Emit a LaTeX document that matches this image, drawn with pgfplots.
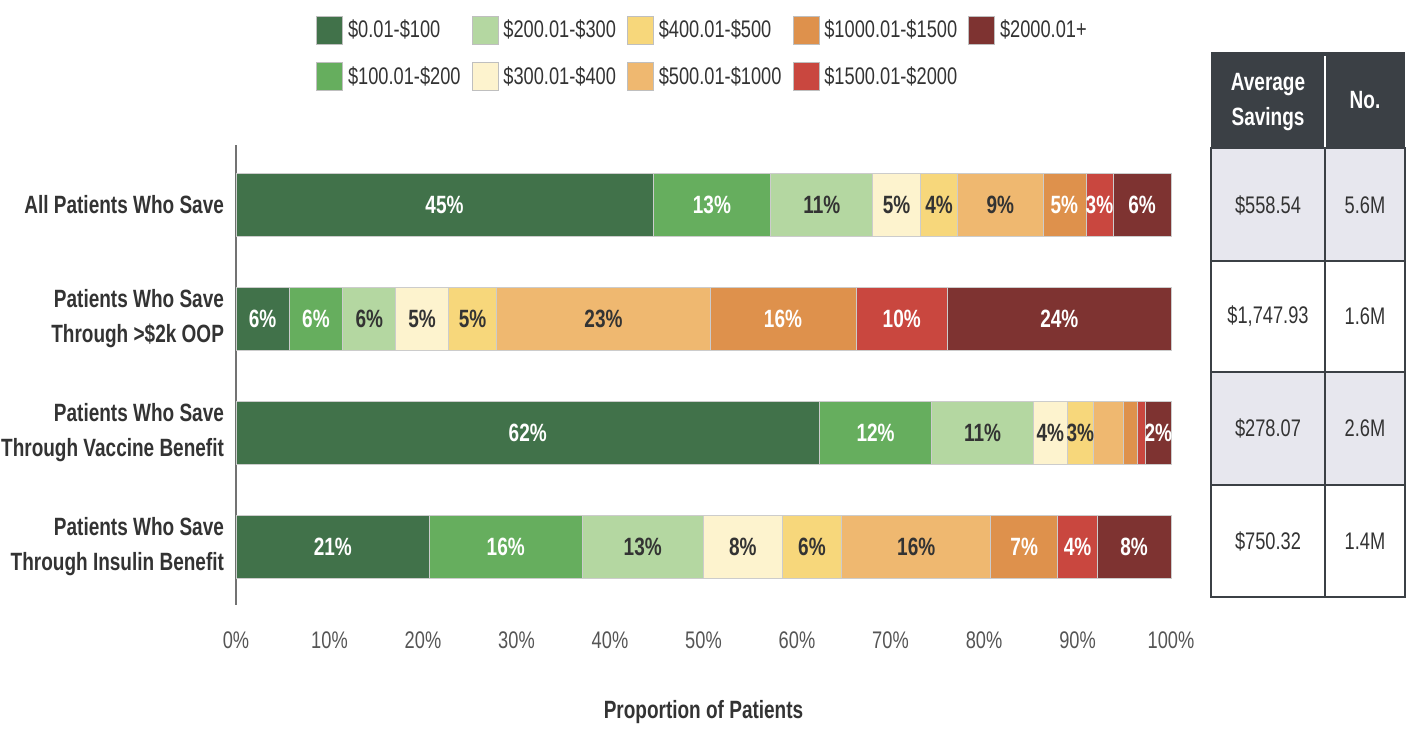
\documentclass[border=0pt]{standalone}
\usepackage{fontspec}
\setmainfont{Liberation Sans}[FakeStretch=0.76]
\usepackage{pgfplots}
\usepackage{pgfplotstable}
\pgfplotsset{compat=1.18}
\definecolor{c1}{HTML}{41724A}
\definecolor{c2}{HTML}{66AE5E}
\definecolor{c3}{HTML}{B4D7A1}
\definecolor{c4}{HTML}{FDF3CE}
\definecolor{c5}{HTML}{F7D77B}
\definecolor{c6}{HTML}{EFB870}
\definecolor{c7}{HTML}{DE914C}
\definecolor{c8}{HTML}{C9473F}
\definecolor{c9}{HTML}{7E3331}
\definecolor{txtdark}{HTML}{333333}
\definecolor{ticktxt}{HTML}{555555}
\definecolor{hdr}{HTML}{3B4045}
\definecolor{rowgray}{HTML}{E7E7EE}

\pgfplotstableread{
row b1 b2 b3 b4 b5 b6 b7 b8 b9 l1 l2 l3 l4 l5 l6 l7 l8 l9
0 44.6 12.6 10.9 5.1 4.0 9.1 4.6 2.9 6.2 45\% 13\% 11\% 5\% 4\% 9\% 5\% 3\% 6\%
1 5.7 5.7 5.7 5.6 5.2 22.8 15.6 9.8 23.9 6\% 6\% 6\% 5\% 5\% 23\% 16\% 10\% 24\%
2 62.4 12.0 10.9 3.6 2.8 3.2 1.5 0.9 2.7 62\% 12\% 11\% 4\% 3\% {} {} {} 2\%
3 20.7 16.3 13.0 8.4 6.4 15.9 7.2 4.2 7.9 21\% 16\% 13\% 8\% 6\% 16\% 7\% 4\% 8\%
}\datatable

\pgfplotsset{
  mybar/.style={draw=black!20, line width=0.4pt,
    legend image code/.code={\draw[##1, draw=black!25, line width=0.4pt] (0pt,-7pt) rectangle (13pt,7pt);}},
  wlab/.style={every node near coord/.append style={text=white}},
  dlab/.style={every node near coord/.append style={text=txtdark}},
}

\begin{document}
\begin{tikzpicture}
\path[use as bounding box] (-118pt,-61.5pt) rectangle (588.5pt,302.5pt);
\begin{axis}[
  scale only axis, width=467.5pt, height=230pt,
  xbar stacked, bar width=0.56,
  xmin=0, xmax=100, ymin=-0.526, ymax=3.509, y dir=reverse,
  enlargelimits=false, clip=false,
  axis lines*=left,
  x axis line style={draw=none},
  y axis line style={draw=black!55, line width=0.8pt},
  major tick length=0pt,
  xtick={0,10,...,100},
  xticklabel={\pgfmathprintnumber{\tick}\%},
  ytick={0,1,2,3},
  yticklabels={{All Patients Who Save},{Patients Who Save\\Through >\$2k OOP},{Patients Who Save\\Through Vaccine Benefit},{Patients Who Save\\Through Insulin Benefit}},
  yticklabel style={align=right, font=\fontsize{12.5}{17.5}\selectfont\bfseries, text=txtdark, xshift=-2.5pt},
  xticklabel style={font=\fontsize{12}{14}\selectfont, text=ticktxt, yshift=-10pt},
  /pgf/number format/assume math mode=true,
  xlabel={Proportion of Patients},
  every axis x label/.style={at={(axis description cs:0.5,0)}, anchor=center, yshift=-53.5pt, font=\fontsize{12.5}{15}\selectfont\bfseries, text=txtdark},
  point meta=explicit symbolic,
  nodes near coords={\pgfplotspointmeta},
  every node near coord/.append style={anchor=center, font=\fontsize{12.5}{15}\selectfont\bfseries},
  legend columns=2, transpose legend,
  legend cell align=left,
  legend style={at={(0.5,1.199)}, anchor=center, draw=none, fill=none, font=\fontsize{12}{14}\selectfont, text=txtdark, row sep=9pt,
    /tikz/every odd column/.append style={column sep=0.5pt},
    /tikz/every even column/.append style={column sep=3.5pt}},
]
\addplot[mybar, fill=c1, wlab] table[x=b1,y=row,meta=l1]{\datatable};
\addlegendentry{\$0.01-\$100}
\addplot[mybar, fill=c2, wlab] table[x=b2,y=row,meta=l2]{\datatable};
\addlegendentry{\$100.01-\$200}
\addplot[mybar, fill=c3, dlab] table[x=b3,y=row,meta=l3]{\datatable};
\addlegendentry{\$200.01-\$300}
\addplot[mybar, fill=c4, dlab] table[x=b4,y=row,meta=l4]{\datatable};
\addlegendentry{\$300.01-\$400}
\addplot[mybar, fill=c5, dlab] table[x=b5,y=row,meta=l5]{\datatable};
\addlegendentry{\$400.01-\$500}
\addplot[mybar, fill=c6, dlab] table[x=b6,y=row,meta=l6]{\datatable};
\addlegendentry{\$500.01-\$1000}
\addplot[mybar, fill=c7, wlab] table[x=b7,y=row,meta=l7]{\datatable};
\addlegendentry{\$1000.01-\$1500}
\addplot[mybar, fill=c8, wlab] table[x=b8,y=row,meta=l8]{\datatable};
\addlegendentry{\$1500.01-\$2000}
\addplot[mybar, fill=c9, wlab] table[x=b9,y=row,meta=l9]{\datatable};
\addlegendentry{\$2000.01+}
\end{axis}

% side table (1px = 0.5pt, axis SW corner at origin)
\fill[hdr] (487.5pt,228.5pt) rectangle (584.5pt,276.5pt);
\fill[rowgray] (487.5pt,172pt) rectangle (584.5pt,228.5pt);
\fill[rowgray] (487.5pt,60pt) rectangle (584.5pt,116.5pt);
\draw[white, line width=0.8pt] (544.5pt,228.5pt) -- (544.5pt,274.5pt);
\draw[hdr, line width=1pt] (487.5pt,4pt) rectangle (584.5pt,228.5pt);
\draw[hdr, line width=1pt] (544.5pt,4pt) -- (544.5pt,228.5pt);
\draw[hdr, line width=1pt] (487.5pt,172pt) -- (584.5pt,172pt);
\draw[hdr, line width=1pt] (487.5pt,116.5pt) -- (584.5pt,116.5pt);
\draw[hdr, line width=1pt] (487.5pt,60pt) -- (584.5pt,60pt);
\node[font=\fontsize{12.5}{17.5}\selectfont\bfseries, text=white, align=center] at (516pt,251.25pt) {Average\\Savings};
\node[font=\fontsize{12.5}{17.5}\selectfont\bfseries, text=white] at (564.5pt,252.5pt) {No.};
\node[font=\fontsize{12}{14}\selectfont, text=txtdark] at (516pt,200pt) {\$558.54};
\node[font=\fontsize{12}{14}\selectfont, text=txtdark] at (564.5pt,200pt) {5.6M};
\node[font=\fontsize{12}{14}\selectfont, text=txtdark] at (516pt,144.5pt) {\$1,747.93};
\node[font=\fontsize{12}{14}\selectfont, text=txtdark] at (564.5pt,144.5pt) {1.6M};
\node[font=\fontsize{12}{14}\selectfont, text=txtdark] at (516pt,88.5pt) {\$278.07};
\node[font=\fontsize{12}{14}\selectfont, text=txtdark] at (564.5pt,88.5pt) {2.6M};
\node[font=\fontsize{12}{14}\selectfont, text=txtdark] at (516pt,32pt) {\$750.32};
\node[font=\fontsize{12}{14}\selectfont, text=txtdark] at (564.5pt,32pt) {1.4M};
\end{tikzpicture}
\end{document}
